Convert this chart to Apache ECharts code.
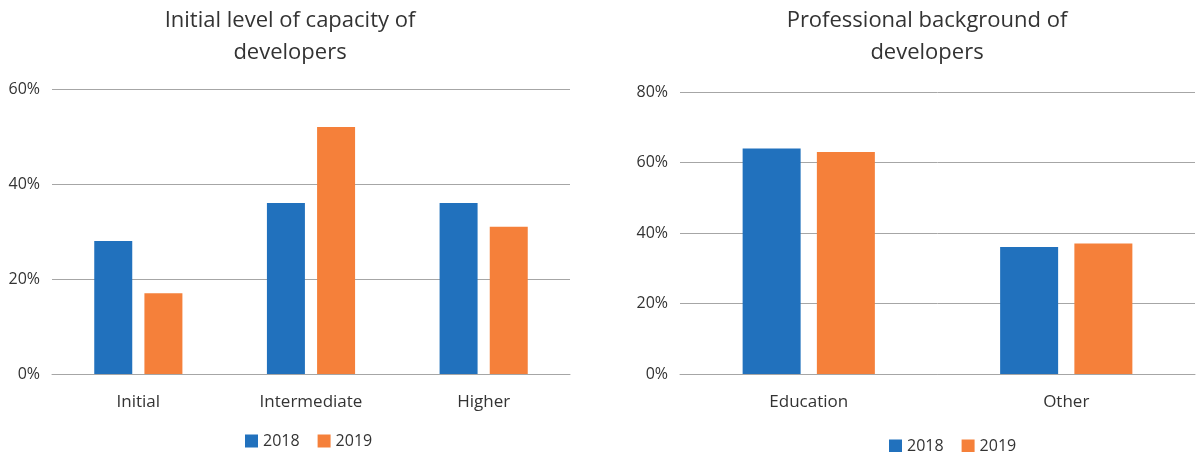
<!DOCTYPE html>
<html><head><meta charset="utf-8">
<script src="https://cdn.jsdelivr.net/npm/echarts@6/dist/echarts.min.js"></script>
<style>html,body{margin:0;padding:0;background:#fff}#c{width:1200px;height:452px}</style>
</head><body><div id="c"></div>
<script>
const cats1 = ['Initial','Intermediate','Higher'];
const s1_2018 = [28,36,36];
const s1_2019 = [17,52,31];
const cats2 = ['Education','Other'];
const s2_2018 = [64,36];
const s2_2019 = [63,37];
const years = ['2018','2019'];
const colors = ['#2171bd','#f5803a'];
const F = 'Open Sans';
const chart = echarts.init(document.getElementById('c'));
const ax = {type:'value',axisLine:{show:false},axisTick:{show:false},
  splitLine:{lineStyle:{color:'#a6a6a6',width:1}},
  axisLabel:{formatter:'{value}%',fontSize:16,color:'#333',fontFamily:F,margin:12}};
const cx = {type:'category',axisTick:{show:false},axisLine:{lineStyle:{color:'#a6a6a6'}},
  axisLabel:{fontSize:17,color:'#333',fontFamily:F,margin:20}};
chart.setOption({
  color:colors,
  textStyle:{fontFamily:F},
  title:[
    {text:'Initial level of capacity of\ndevelopers',left:285,top:0,textAlign:'center',
     textStyle:{fontSize:22,fontWeight:'normal',color:'#333',lineHeight:32,fontFamily:F}},
    {text:'Professional background of\ndevelopers',left:922,top:0,textAlign:'center',
     textStyle:{fontSize:22,fontWeight:'normal',color:'#333',lineHeight:32,fontFamily:F}}
  ],
  legend:[
    {data:years,left:240,top:428,itemWidth:13,itemHeight:13,itemGap:18,icon:'rect',
     textStyle:{fontSize:16,color:'#333',fontFamily:F}},
    {data:years,left:884,top:433,itemWidth:13,itemHeight:13,itemGap:18,icon:'rect',
     textStyle:{fontSize:16,color:'#333',fontFamily:F}}
  ],
  grid:[
    {left:52,right:630,top:89,height:285},
    {left:680,right:5,top:92,height:282}
  ],
  xAxis:[Object.assign({gridIndex:0,data:cats1},cx),Object.assign({gridIndex:1,data:cats2},cx)],
  yAxis:[Object.assign({gridIndex:0,min:0,max:60,interval:20},ax),Object.assign({gridIndex:1,min:0,max:80,interval:20},ax)],
  series:[
    {name:'2018',type:'bar',xAxisIndex:0,yAxisIndex:0,data:s1_2018,barWidth:38,barGap:'32%'},
    {name:'2019',type:'bar',xAxisIndex:0,yAxisIndex:0,data:s1_2019,barWidth:38,barGap:'32%'},
    {name:'2018',type:'bar',xAxisIndex:1,yAxisIndex:1,data:s2_2018,barWidth:58,barGap:'28%'},
    {name:'2019',type:'bar',xAxisIndex:1,yAxisIndex:1,data:s2_2019,barWidth:58,barGap:'28%'}
  ]
});
</script></body></html>
